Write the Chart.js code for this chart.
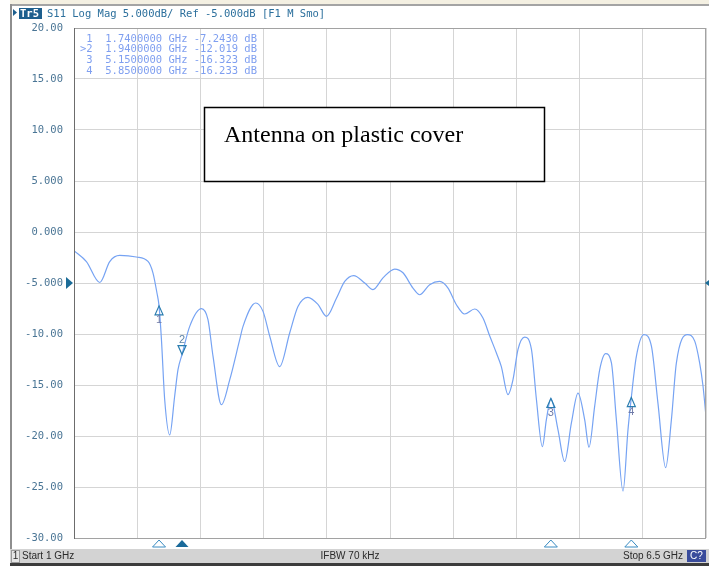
<!DOCTYPE html>
<html>
<head>
<meta charset="utf-8">
<script src="https://cdn.jsdelivr.net/npm/chart.js@4/dist/chart.umd.min.js"></script>
<style>
  html, body { margin: 0; padding: 0; background: #fff; }
  canvas { display: block; }
</style>
</head>
<body>
<canvas id="c" width="709" height="567"></canvas>
<script>
// S11 sweep, 1 - 6.5 GHz (GHz, dB)
const freqGHz = [
  1.000, 1.108, 1.224, 1.311, 1.398, 1.543, 1.644, 1.687, 1.722, 1.740,
  1.761, 1.789, 1.833, 1.876, 1.905, 1.940, 2.007, 2.109, 2.166, 2.210,
  2.283, 2.355, 2.442, 2.471, 2.581, 2.645, 2.703, 2.790, 2.877, 2.949,
  3.036, 3.123, 3.197, 3.284, 3.356, 3.434, 3.530, 3.602, 3.689, 3.791,
  3.863, 3.950, 4.008, 4.095, 4.182, 4.255, 4.328, 4.400, 4.487, 4.559,
  4.618, 4.676, 4.719, 4.777, 4.820, 4.864, 4.922, 4.981, 5.024, 5.076,
  5.111, 5.150, 5.212, 5.270, 5.329, 5.386, 5.444, 5.482, 5.531, 5.575,
  5.627, 5.677, 5.720, 5.778, 5.821, 5.850, 5.894, 5.960, 6.025, 6.082,
  6.149, 6.199, 6.242, 6.338, 6.402, 6.445, 6.474, 6.500
];
const s11dB = [
  -1.83, -2.90, -4.95, -2.90, -2.30, -2.45, -2.88, -4.00, -5.98, -7.243,
  -10.55, -16.40, -19.90, -16.10, -13.50, -12.019, -9.25, -7.52, -8.60, -12.20,
  -16.93, -14.50, -10.55, -9.25, -6.96, -7.78, -10.20, -13.20, -9.90, -7.30,
  -6.40, -7.10, -8.27, -6.50, -4.85, -4.28, -5.00, -5.65, -4.50, -3.63,
  -4.00, -5.50, -6.15, -5.17, -4.84, -5.50, -7.13, -8.04, -7.55, -8.43,
  -10.20, -11.86, -13.20, -15.95, -14.50, -11.50, -10.30, -11.50, -16.40, -21.05,
  -18.40, -16.323, -19.40, -22.50, -18.70, -15.80, -18.40, -21.10, -17.10, -13.50,
  -11.93, -12.84, -18.40, -25.40, -19.40, -16.233, -12.20, -10.07, -11.20, -16.80,
  -23.10, -18.40, -12.85, -10.07, -10.70, -12.85, -15.10, -18.10
];

// Markers
const markerNo  = [1, 2, 3, 4];
const markerGHz = [1.74, 1.94, 5.15, 5.85];
const markerDb  = [-7.243, -12.019, -16.323, -16.233];
const activeMarker = 2;

// Axis setup
const startGHz = 1, stopGHz = 6.5;
const refDb = -5, dbPerDiv = 5;
const yTickValues = [20, 15, 10, 5, 0, -5, -10, -15, -20, -25, -30];
const ifbwText = 'IFBW 70 kHz';
const noteText = 'Antenna on plastic cover';

const MONO = '"DejaVu Sans Mono", monospace';
const SANS = '"Liberation Sans", Arial, sans-serif';

function fmtDb(v) {
  return Math.abs(v) >= 10 ? v.toFixed(2) : v.toFixed(3);
}

const chrome = {
  id: 'vnaChrome',
  beforeDraw(chart) {
    const ctx = chart.ctx;
    ctx.save();
    ctx.fillStyle = '#ffffff';
    ctx.fillRect(0, 0, chart.width, chart.height);
    // window strip and frame
    ctx.fillStyle = '#f4f0e2';
    ctx.fillRect(10, 0, chart.width - 10, 4);
    ctx.fillStyle = '#a4a4a4';
    ctx.fillRect(10, 4, chart.width - 10, 2);
    ctx.fillStyle = '#8e8e8e';
    ctx.fillRect(10, 4, 2, 546);
    // trace header
    ctx.fillStyle = '#1d5f8e';
    ctx.beginPath();
    ctx.moveTo(13, 9); ctx.lineTo(17, 12.5); ctx.lineTo(13, 16); ctx.closePath();
    ctx.fill();
    ctx.fillRect(19, 8, 23, 11);
    ctx.font = 'bold 10.5px ' + MONO;
    ctx.textBaseline = 'alphabetic';
    ctx.fillStyle = '#ffffff';
    ctx.fillText('Tr5', 20, 17);
    ctx.font = '10.5px ' + MONO;
    ctx.fillStyle = '#2b6f9c';
    ctx.fillText('S11 Log Mag ' + dbPerDiv.toFixed(3) + 'dB/ Ref ' + refDb.toFixed(3) + 'dB [F1 M Smo]', 47, 17);
    ctx.restore();
  },
  afterDraw(chart) {
    const ctx = chart.ctx;
    const a = chart.chartArea;
    const xs = chart.scales.x, ys = chart.scales.y;
    ctx.save();
    // plot frame
    ctx.strokeStyle = '#a2a2a2';
    ctx.lineWidth = 1;
    ctx.strokeRect(a.left + 0.5, a.top + 0.5, a.right - a.left - 1, a.bottom - a.top);
    ctx.strokeStyle = '#6c6c6c';
    ctx.beginPath();
    ctx.moveTo(a.left + 0.5, a.top); ctx.lineTo(a.left + 0.5, a.bottom + 1);
    ctx.stroke();

    // reference level pointers
    const yRef = ys.getPixelForValue(refDb);
    ctx.fillStyle = '#1b6c98';
    ctx.beginPath();
    ctx.moveTo(a.left - 1, yRef); ctx.lineTo(a.left - 8, yRef - 6); ctx.lineTo(a.left - 8, yRef + 6); ctx.closePath();
    ctx.fill();
    ctx.beginPath();
    ctx.moveTo(a.right - 1, yRef); ctx.lineTo(a.right + 3, yRef - 3); ctx.lineTo(a.right + 3, yRef + 3); ctx.closePath();
    ctx.fill();

    // marker glyphs on the trace
    ctx.lineWidth = 1.2;
    ctx.font = '11px ' + SANS;
    ctx.textAlign = 'center';
    ctx.textBaseline = 'middle';
    markerNo.forEach((n, i) => {
      const px = xs.getPixelForValue(markerGHz[i]);
      const py = ys.getPixelForValue(markerDb[i]);
      ctx.strokeStyle = '#2a7db0';
      ctx.beginPath();
      if (n === activeMarker) {
        ctx.moveTo(px, py); ctx.lineTo(px - 4, py - 9); ctx.lineTo(px + 4, py - 9); ctx.closePath();
        ctx.stroke();
        ctx.fillStyle = '#5f84a8';
        ctx.fillText(String(n), px, py - 15);
      } else {
        ctx.moveTo(px, py); ctx.lineTo(px - 4, py + 9); ctx.lineTo(px + 4, py + 9); ctx.closePath();
        ctx.stroke();
        ctx.fillStyle = '#6f7aa6';
        ctx.fillText(String(n), px, py + 14);
      }
      // stimulus markers under the grid
      const by = a.bottom + 1;
      ctx.lineWidth = 1;
      ctx.beginPath();
      ctx.moveTo(px, by + 1); ctx.lineTo(px - 6.5, by + 8); ctx.lineTo(px + 6.5, by + 8); ctx.closePath();
      if (n === activeMarker) {
        ctx.fillStyle = '#1a6a9a';
        ctx.fill();
      } else {
        ctx.strokeStyle = '#3a8cc2';
        ctx.stroke();
      }
      ctx.lineWidth = 1.2;
    });

    // marker readout table
    ctx.textAlign = 'left';
    ctx.textBaseline = 'middle';
    ctx.font = '10.5px ' + MONO;
    ctx.fillStyle = '#7f9ff0';
    markerNo.forEach((n, i) => {
      const line = (n === activeMarker ? '>' : ' ') + n + '  ' + markerGHz[i].toFixed(7) + ' GHz ' + markerDb[i].toPrecision(5) + ' dB';
      ctx.fillText(line, 80, 39 + i * 10.7);
    });

    // note box
    ctx.fillStyle = '#ffffff';
    ctx.fillRect(204, 107, 341, 75);
    ctx.strokeStyle = '#000000';
    ctx.lineWidth = 1.5;
    ctx.strokeRect(204.5, 107.5, 340, 74);
    ctx.fillStyle = '#000000';
    ctx.font = '24px "Liberation Serif", "Times New Roman", serif';
    ctx.textBaseline = 'alphabetic';
    ctx.fillText(noteText, 224, 142);

    // status bar
    ctx.fillStyle = '#d3d3d3';
    ctx.fillRect(10, 549, chart.width - 10, 14);
    ctx.fillStyle = '#3c3c3c';
    ctx.fillRect(10, 563, chart.width - 10, 3);
    ctx.fillStyle = '#e6e6e6';
    ctx.fillRect(11, 550, 8, 12);
    ctx.strokeStyle = '#9a9a9a';
    ctx.lineWidth = 1;
    ctx.strokeRect(11.5, 550.5, 8, 12);
    ctx.fillStyle = '#2a2a2a';
    ctx.font = '10px ' + SANS;
    ctx.textBaseline = 'middle';
    ctx.textAlign = 'center';
    ctx.fillText('1', 15.5, 556.5);
    ctx.textAlign = 'left';
    ctx.fillText('Start ' + startGHz + ' GHz', 22, 556.5);
    ctx.textAlign = 'center';
    ctx.fillText(ifbwText, 350, 556.5);
    ctx.textAlign = 'left';
    ctx.fillText('Stop ' + stopGHz + ' GHz', 623, 556.5);
    ctx.fillStyle = '#3a4c9c';
    ctx.fillRect(687, 550, 19, 12);
    ctx.fillStyle = '#ffffff';
    ctx.textAlign = 'center';
    ctx.fillText('C?', 696.5, 556.5);
    ctx.restore();
  }
};

new Chart(document.getElementById('c'), {
  type: 'line',
  data: {
    datasets: [{
      data: freqGHz.map((f, i) => ({ x: f, y: s11dB[i] })),
      borderColor: '#76a3f3',
      borderWidth: 1.2,
      pointRadius: 0,
      fill: false,
      cubicInterpolationMode: 'monotone'
    }]
  },
  options: {
    responsive: false,
    animation: false,
    devicePixelRatio: 1,
    layout: { padding: { top: 28, bottom: 29, left: 0, right: 3 } },
    plugins: { legend: { display: false }, tooltip: { enabled: false } },
    scales: {
      x: {
        type: 'linear',
        min: startGHz,
        max: stopGHz,
        afterBuildTicks(scale) {
          scale.ticks = Array.from({ length: 11 }, (_, i) => ({ value: startGHz + i * (stopGHz - startGHz) / 10 }));
        },
        afterFit(scale) { scale.height = 0; },
        ticks: { display: false },
        grid: { color: '#d5d5d5', drawTicks: false },
        border: { display: false }
      },
      y: {
        min: -30,
        max: 20,
        afterBuildTicks(scale) {
          scale.ticks = yTickValues.map(v => ({ value: v }));
        },
        afterFit(scale) { scale.width = 74; },
        ticks: {
          callback: v => fmtDb(v),
          color: '#4a7595',
          font: { family: 'DejaVu Sans Mono', size: 10.5 },
          padding: 11
        },
        grid: { color: '#d5d5d5', drawTicks: false },
        border: { display: false }
      }
    }
  },
  plugins: [chrome]
});
</script>
</body>
</html>
